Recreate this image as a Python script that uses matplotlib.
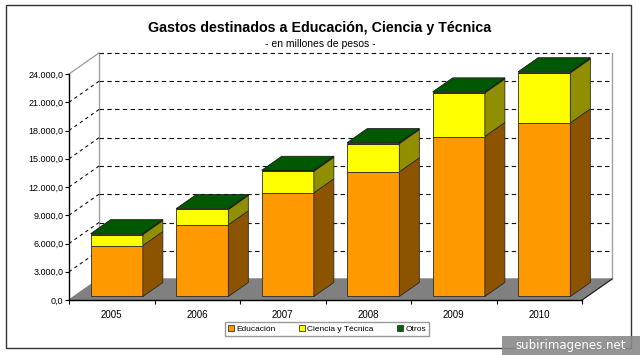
import matplotlib.pyplot as plt
from matplotlib.patches import Patch, Rectangle

plt.rcParams['font.family'] = ['Liberation Sans', 'DejaVu Sans']

years = ['2005', '2006', '2007', '2008', '2009', '2010']
educacion = [5410, 7610, 11010, 13240, 16990, 18440]
ciencia = [1170, 1630, 2290, 3000, 4630, 5310]
otros = [90, 90, 100, 100, 110, 120]
yticks = [0, 3000, 6000, 9000, 12000, 15000, 18000, 21000, 24000]
ytick_labels = ['0,0', '3.000,0', '6.000,0', '9.000,0', '12.000,0',
                '15.000,0', '18.000,0', '21.000,0', '24.000,0']
series_names = ['Educación', 'Ciencia y Técnica', 'Otros']
front_cols = ['#FF9900', '#FFFF00', '#006600']
side_cols = ['#8C5300', '#8F8F00', '#003A00']
top_col = '#005800'

W, H = 640, 355
fig = plt.figure(figsize=(W / 100, H / 100), dpi=100)
ax = fig.add_axes([69 / W, 1 - 300 / H, 513 / W, 226 / H])
ax.set_xlim(-0.5, 5.5)
ax.set_ylim(0, 24000)
ax.patch.set_visible(False)

# oblique depth of the 3d box, in data units
DX = 30 / 85.5
DY = 21 * 24000 / 226
x0, x1 = -0.5, 5.5
ymax = yticks[-1]

# floor
ax.fill([x0, x1, x1 + DX, x0 + DX], [0, 0, DY, DY], color='#808080', zorder=1, clip_on=False)
ax.plot([x1, x1 + DX], [0, DY], color='#222222', lw=0.8, zorder=1.5, clip_on=False)

# walls edges
ax.plot([x0 + DX, x0 + DX], [DY, ymax + DY], color='#a0a0a0', lw=1, zorder=1, clip_on=False)
ax.plot([x1 + DX, x1 + DX], [DY, ymax + DY], color='#a0a0a0', lw=1, zorder=1, clip_on=False)
ax.plot([x0, x0 + DX], [ymax, ymax + DY], color='#909090', lw=0.8, zorder=1, clip_on=False)

# gridlines on back wall and left wall
for v in yticks[1:]:
    ax.plot([x0 + DX, x1 + DX], [v + DY, v + DY], color='#111111', lw=0.8,
            dashes=(4, 3), zorder=1.2, clip_on=False)
    if v < ymax:
        ax.plot([x0, x0 + DX], [v, v + DY], color='#111111', lw=0.8,
                dashes=(3, 3), zorder=1.2, clip_on=False)

# stacked 3d columns
f0, depth, bw = 0.167, 0.667, 0.61
stacks = [educacion, ciencia, otros]
xs = range(len(years))
bottoms = [0] * len(years)
for k, vals in enumerate(stacks):
    ax.bar([x + f0 * DX for x in xs], vals, width=bw,
           bottom=[b + f0 * DY for b in bottoms],
           color=front_cols[k], edgecolor='#2a2a2a', lw=0.6, zorder=3, clip_on=False)
    for i in xs:
        xr = i + f0 * DX + bw / 2
        b = bottoms[i] + f0 * DY
        t = b + vals[i]
        ax.fill([xr, xr + depth * DX, xr + depth * DX, xr],
                [b, b + depth * DY, t + depth * DY, t],
                facecolor=side_cols[k], edgecolor='#2a2a2a', lw=0.6, zorder=3, clip_on=False)
    bottoms = [b + v for b, v in zip(bottoms, vals)]

for i in xs:
    xl = i + f0 * DX - bw / 2
    xr = xl + bw
    t = bottoms[i] + f0 * DY
    ax.fill([xl, xr, xr + depth * DX, xl + depth * DX],
            [t, t, t + depth * DY, t + depth * DY],
            facecolor=top_col, edgecolor='#1a1a1a', lw=0.6, zorder=3.5, clip_on=False)

# axes
for s in ['top', 'right']:
    ax.spines[s].set_visible(False)
for s in ['left', 'bottom']:
    ax.spines[s].set_color('black')
    ax.spines[s].set_linewidth(1)
    ax.spines[s].set_zorder(4)
ax.set_yticks(yticks)
ax.set_yticklabels(ytick_labels)
ax.tick_params(axis='y', direction='out', length=3, width=0.8, labelsize=6.5, pad=1,
               colors='black')
ax.set_xticks(list(xs))
ax.set_xticklabels(years)
ax.set_xticks([x0 + k for k in range(7)], minor=True)
ax.tick_params(axis='x', which='major', length=0, labelsize=7, pad=7)
ax.tick_params(axis='x', which='minor', direction='out', length=3, width=0.8)

# titles
fig.text(320 / W, 1 - 28 / H, 'Gastos destinados a Educación, Ciencia y Técnica',
         ha='center', va='center', fontsize=10.3, fontweight='bold')
fig.text(320 / W, 1 - 44 / H, '- en millones de pesos -', ha='center', va='center',
         fontsize=7.5)

# legend
handles = [Patch(facecolor=c, edgecolor='#333333', lw=0.6) for c in front_cols]
leg = fig.legend(handles, series_names, loc='center', ncol=3,
                 bbox_to_anchor=(327 / W, 1 - 329 / H), fontsize=6,
                 frameon=True, fancybox=False, handlelength=0.7, handleheight=0.7,
                 handletextpad=0.3, columnspacing=2.8, borderpad=0.4)
leg.get_frame().set_edgecolor('#808080')
leg.get_frame().set_linewidth(1)

# chart frame
fig.add_artist(Rectangle((6 / W, 1 - 348 / H), 625 / W, 343 / H, transform=fig.transFigure,
                         fill=False, edgecolor='#333333', lw=1))

# watermark
fig.add_artist(Rectangle((502 / W, 0), 138 / W, 19 / H, transform=fig.transFigure,
                         facecolor='#8a8a8a', edgecolor='none', alpha=0.9))
fig.text(571 / W, 1 - 345 / H, 'subirimagenes.net', ha='center', va='center',
         fontsize=8.5, color='white', family='DejaVu Sans')

fig.savefig('out.png', dpi=100, facecolor='white')
